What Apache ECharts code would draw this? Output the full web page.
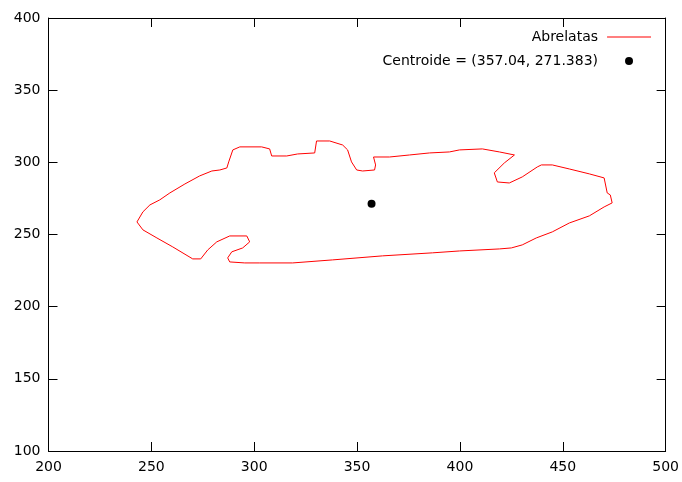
<!DOCTYPE html>
<html>
<head>
<meta charset="utf-8">
<script src="https://cdn.jsdelivr.net/npm/echarts@6/dist/echarts.min.js"></script>
<style>
  html, body { margin: 0; padding: 0; background: #fff; }
  #main { width: 682px; height: 482px; }
</style>
</head>
<body>
<div id="main"></div>
<script>
// contorno del abrelatas (x, y)
var contornoX = [243.0, 245.9, 249.3, 254.1, 259.0, 266.3, 273.5, 279.4, 283.3, 286.7,
    287.6, 289.6, 293.0, 303.6, 307.5, 308.5, 315.8, 321.1, 329.4, 330.3,
    336.7, 343.0, 345.4, 347.3, 349.8, 352.7, 358.5, 359.0, 358.0, 365.8,
    375.5, 385.2, 394.9, 399.8, 410.9, 419.2, 426.5, 421.6, 416.7, 418.2,
    424.0, 430.3, 437.6, 439.6, 444.9, 453.2, 462.9, 470.1, 471.6, 473.1,
    474.0, 470.1, 462.9, 453.2, 444.9, 437.1, 430.3, 425.0, 419.2, 399.8,
    386.7, 362.4, 338.1, 318.7, 302.7, 295.4, 288.1, 287.1, 289.1, 294.4,
    297.8, 296.4, 288.1, 281.8, 277.4, 274.0, 270.1, 260.4, 252.7, 245.9, 243.0];
var contornoY = [258.7, 265.7, 270.5, 274.0, 278.8, 285.0, 290.6, 294.0, 294.7, 296.1,
    300.3, 308.6, 310.7, 310.7, 309.3, 304.4, 304.4, 305.8, 306.5, 314.8,
    314.8, 312.0, 308.6, 300.3, 294.7, 294.0, 294.7, 298.2, 303.7, 303.7,
    305.1, 306.5, 307.2, 308.6, 309.3, 307.2, 305.1, 299.6, 292.7, 286.4,
    285.7, 289.9, 296.8, 298.2, 298.2, 295.4, 292.0, 289.2, 278.8, 277.4,
    271.9, 269.1, 262.9, 258.0, 251.8, 247.6, 242.8, 240.7, 240.0, 238.6,
    237.3, 235.2, 232.4, 230.3, 230.3, 230.3, 231.0, 233.8, 238.0, 240.7,
    244.9, 249.0, 249.0, 244.9, 239.3, 233.1, 233.1, 241.4, 247.6, 253.2, 258.7];
var centroide = [357.04, 271.383];
var ticksX = [200, 250, 300, 350, 400, 450, 500];
var ticksY = [100, 150, 200, 250, 300, 350, 400];

var contorno = contornoX.map(function (x, i) { return [x, contornoY[i]]; });
var fuente = 'DejaVu Sans';

var myChart = echarts.init(document.getElementById('main'));

function eje(extra) {
    var base = {
        type: 'value',
        axisLine: { show: true, lineStyle: { color: '#000', width: 1 } },
        axisTick: { show: true, inside: true, length: 9, lineStyle: { color: '#000' } },
        axisLabel: { color: '#000', fontFamily: fuente, fontSize: 14 },
        splitLine: { show: false }
    };
    for (var k in extra) base[k] = extra[k];
    return base;
}

var option = {
    animation: false,
    grid: { left: 48.5, right: 16, top: 18, bottom: 31 },
    legend: {
        orient: 'vertical',
        right: 26,
        top: 25,
        align: 'right',
        itemWidth: 44,
        itemHeight: 8,
        itemGap: 10,
        textStyle: { color: '#000', fontFamily: fuente, fontSize: 14, padding: [0, 4, 0, 0] },
        data: [{
            name: 'Abrelatas',
            // solo la línea, sin símbolo
            icon: 'path://M0,0L0,0.01M0,3.5L44,3.5L44,4.5L0,4.5ZM0,8L0,8.01'
        }, {
            name: 'Centroide = (357.04, 271.383)',
            icon: 'circle'
        }]
    },
    xAxis: [
        eje({ min: ticksX[0], max: ticksX[ticksX.length - 1], interval: 50, position: 'bottom',
              axisLabel: { color: '#000', fontFamily: fuente, fontSize: 14, margin: 9 } }),
        eje({ min: ticksX[0], max: ticksX[ticksX.length - 1], interval: 50, position: 'top',
              axisLabel: { show: false } })
    ],
    yAxis: [
        eje({ min: ticksY[0], max: ticksY[ticksY.length - 1], interval: 50, position: 'left',
              axisLabel: { color: '#000', fontFamily: fuente, fontSize: 14, margin: 8 } }),
        eje({ min: ticksY[0], max: ticksY[ticksY.length - 1], interval: 50, position: 'right',
              axisLabel: { show: false } })
    ],
    series: [{
        name: 'Abrelatas',
        type: 'line',
        data: contorno,
        symbol: 'none',
        showSymbol: false,
        lineStyle: { color: '#ff0000', width: 1 },
        itemStyle: { color: '#ff0000' }
    }, {
        name: 'Centroide = (357.04, 271.383)',
        type: 'scatter',
        data: [centroide],
        symbolSize: 8,
        itemStyle: { color: '#000', opacity: 1 }
    }]
};

myChart.setOption(option);
</script>
</body>
</html>
